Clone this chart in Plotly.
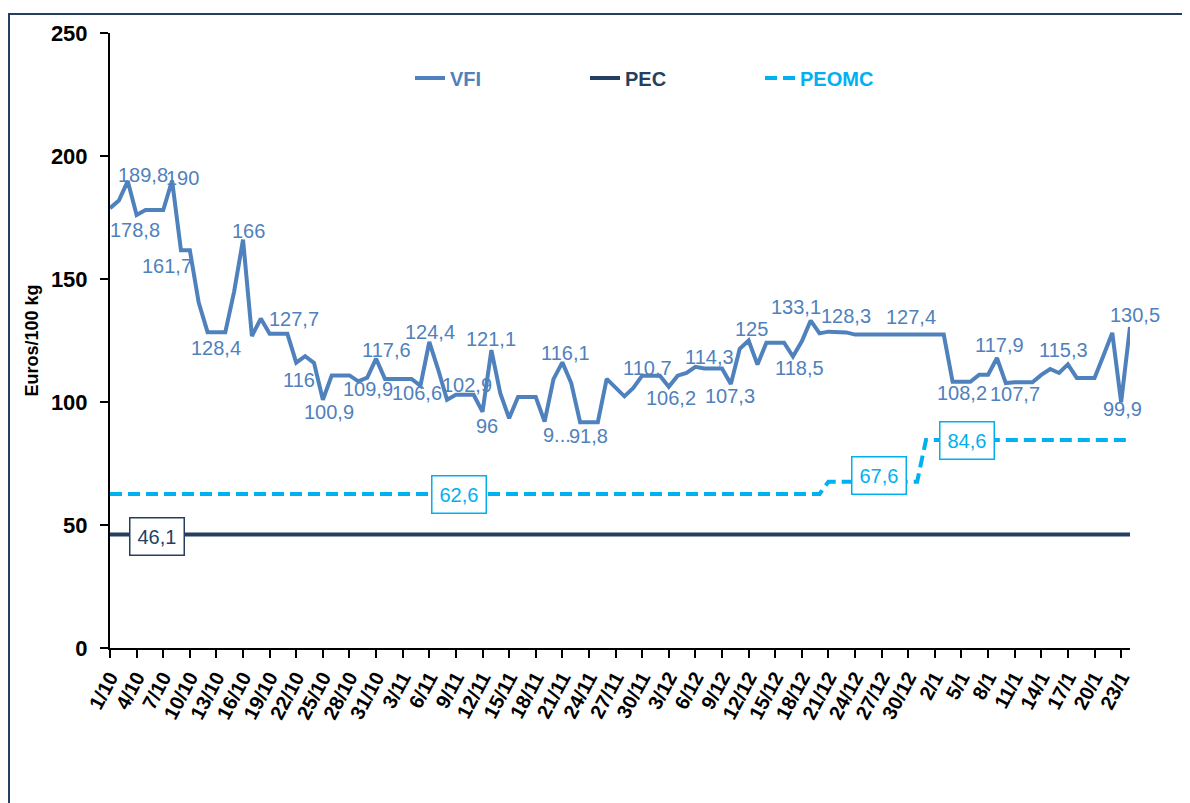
import plotly.graph_objects as go
import pandas as pd

# ---------------- data ----------------
start_date = "2022-10-01"
vfi = [178.8, 181.9, 189.8, 176.0, 178.0, 178.0, 178.0, 190.0, 161.7, 161.7,
       140.4, 128.4, 128.4, 128.4, 145.0, 166.0, 126.8, 133.9, 127.7, 127.7,
       127.7, 116.0, 118.6, 115.9, 100.9, 110.8, 110.8, 110.8, 108.4, 109.9,
       117.6, 109.4, 109.4, 109.4, 109.4, 106.6, 124.4, 113.2, 100.9, 102.9,
       102.9, 102.9, 96.0, 121.1, 103.6, 93.4, 102.0, 102.0, 102.0, 92.0,
       109.3, 116.1, 107.7, 91.8, 91.8, 91.8, 109.4, 106.0, 102.3, 105.7,
       110.7, 110.7, 110.7, 106.2, 110.7, 111.8, 114.3, 113.6, 113.6, 113.6,
       107.3, 121.6, 125.0, 115.2, 124.1, 124.1, 124.1, 118.5, 124.7, 133.1,
       127.9, 128.6, 128.6, 128.3, 127.4, 127.4, 127.4, 127.4, 127.4, 127.4,
       127.4, 127.4, 127.4, 127.4, 127.4, 108.2, 108.2, 108.2, 111.1, 111.1,
       117.9, 107.7, 108.0, 108.0, 108.0, 111.0, 113.4, 111.8, 115.3, 109.8,
       109.8, 109.8, 118.8, 128.1, 99.9, 130.5]
pec = [46.1] * len(vfi)
peomc = [62.6] * 81 + [67.6] * 11 + [84.6] * 24

tick_labels = ["1/10", "4/10", "7/10", "10/10", "13/10", "16/10", "19/10", "22/10",
               "25/10", "28/10", "31/10", "3/11", "6/11", "9/11", "12/11", "15/11",
               "18/11", "21/11", "24/11", "27/11", "30/11", "3/12", "6/12", "9/12",
               "12/12", "15/12", "18/12", "21/12", "24/12", "27/12", "30/12", "2/1",
               "5/1", "8/1", "11/1", "14/1", "17/1", "20/1", "23/1"]

dates = pd.date_range(start_date, periods=len(vfi), freq="D")
tick_vals = list(dates[::3])

# ---------------- style ----------------
FONT = "Liberation Sans, Arial, sans-serif"
C_VFI = "#4f81bd"
C_PEC = "#243f60"
C_PEOMC = "#00b0f0"

# label offsets (px) for VFI data labels: index -> (dx, dy down)
label_pos = {
    0: (25, 22), 2: (15, -6), 7: (10, -3), 8: (-14, 16), 12: (0, 16), 15: (5, -9),
    20: (7, -15), 21: (3, 17), 24: (6, 12), 29: (1, 11), 30: (10, -9), 35: (-3, 7),
    36: (1, -10), 40: (2, -10), 42: (4, 14), 43: (0, -11), 49: (12, 13), 51: (3, -9),
    54: (0, 14), 60: (5, -8), 63: (2, 11), 66: (14, -10), 70: (-1, 12), 72: (3, -12),
    77: (7, 12), 79: (-15, -14), 83: (0, -16), 90: (3, -18), 96: (1, 11),
    100: (3, -13), 101: (9, 11), 108: (-4, -14), 114: (1, 7), 115: (5, -12),
}
truncated = {49: "9..."}

# box labels: (series, index, dx, dy, color)
box_labels = [(pec, 5, 3, 2, C_PEC), (peomc, 39, 3, 0, C_PEOMC),
              (peomc, 87, -3, -6, C_PEOMC), (peomc, 97, -3, 1, C_PEOMC)]


def fmt(v):
    return f"{v:g}".replace(".", ",")


fig = go.Figure()
fig.add_trace(go.Scatter(x=dates, y=vfi, mode="lines",
                         line=dict(color=C_VFI, width=4),
                         name=f"<b><span style='color:{C_VFI}'>VFI</span></b>"))
fig.add_trace(go.Scatter(x=dates, y=pec, mode="lines",
                         line=dict(color=C_PEC, width=4),
                         name=f"<b><span style='color:{C_PEC}'>PEC</span></b>"))
fig.add_trace(go.Scatter(x=dates, y=peomc, mode="lines",
                         line=dict(color=C_PEOMC, width=4, dash="12px,6px"),
                         name=f"<b><span style='color:{C_PEOMC}'>PEOMC</span></b>"))

annotations = []
for i, (dx, dy) in label_pos.items():
    annotations.append(dict(
        x=dates[i], y=vfi[i], xref="x", yref="y",
        text=truncated.get(i, fmt(vfi[i])), showarrow=False,
        xshift=dx, yshift=-dy, xanchor="center", yanchor="middle",
        font=dict(family=FONT, size=20, color=C_VFI)))
for series, i, dx, dy, col in box_labels:
    annotations.append(dict(
        x=dates[i], y=series[i], xref="x", yref="y",
        text=fmt(series[i]), showarrow=False,
        xshift=dx, yshift=-dy, xanchor="center", yanchor="middle",
        bgcolor="white", bordercolor=col, borderwidth=1.5, borderpad=7,
        font=dict(family=FONT, size=20, color=col)))

# page offset of the figure div (browser body margin)
OFF = 8
W, H = 1182, 795
L, R, T, B = 110 - OFF, 60, 33 - OFF, 155
pw, ph = W - L - R, H - T - B


def px_x(p):  # page pixel -> paper fraction
    return (p - OFF - L) / pw


def px_y(p):
    return (H - B - (p - OFF)) / ph


fig.update_layout(
    width=W, height=H,
    margin=dict(l=L, r=R, t=T, b=B),
    paper_bgcolor="white", plot_bgcolor="white",
    font=dict(family=FONT, color="black"),
    annotations=annotations,
    showlegend=True,
    legend=dict(orientation="h", x=px_x(410), y=px_y(78), xanchor="left", yanchor="middle",
                entrywidth=130, entrywidthmode="pixels",
                font=dict(family=FONT, size=20), bgcolor="rgba(0,0,0,0)"),
    shapes=[dict(type="rect", xref="paper", yref="paper",
                 x0=px_x(9), x1=px_x(1183), y0=px_y(840), y1=px_y(14),
                 line=dict(color=C_PEC, width=2), fillcolor="rgba(0,0,0,0)", layer="below")],
    xaxis=dict(range=[dates[0], dates[-1]], tickvals=tick_vals, ticktext=tick_labels,
               tickangle=-62, showline=True, linecolor="black", linewidth=2,
               ticks="outside", ticklen=8, tickwidth=1.5, tickcolor="black",
               showgrid=False, zeroline=False, automargin=False,
               tickfont=dict(family=FONT, size=20, color="black", weight="bold")),
    yaxis=dict(range=[0, 250], tickvals=[0, 50, 100, 150, 200, 250],
               showline=True, linecolor="black", linewidth=2,
               ticks="outside", ticklen=8, tickwidth=1.5, tickcolor="black",
               showgrid=False, zeroline=False, ticklabelstandoff=8, automargin=False,
               tickfont=dict(family=FONT, size=22, color="black", weight="bold"),
               title=dict(text="<b>Euros/100 kg</b>", standoff=8,
                          font=dict(family=FONT, size=18, color="black"))),
)

fig.write_html("out.html")
